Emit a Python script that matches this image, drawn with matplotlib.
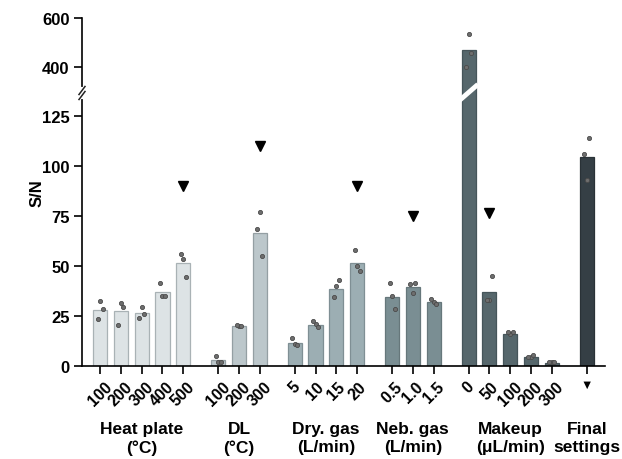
import matplotlib
matplotlib.use("Agg")
import matplotlib.pyplot as plt
from matplotlib.lines import Line2D
from matplotlib.transforms import blended_transform_factory
import numpy as np

plt.rcParams['font.family'] = ['Liberation Sans', 'DejaVu Sans']
plt.rcParams['font.weight'] = 'bold'

# グループ名とラベル
groups = ["Heat plate\n(°C)", "DL\n(°C)", "Dry. gas\n(L/min)", "Neb. gas\n(L/min)",
          "Makeup\n(μL/min)", "Final\nsettings"]
tick_labels = [["100", "200", "300", "400", "500"],
               ["100", "200", "300"],
               ["5", "10", "15", "20"],
               ["0.5", "1.0", "1.5"],
               ["0", "50", "100", "200", "300"],
               ["▼"]]
# 平均値 (S/N)
bar_vals = [[28, 27.5, 26.5, 37, 51.5],
            [3.2, 19.8, 66.7],
            [11.7, 20.5, 38.7, 51.5],
            [34.7, 39.5, 31.8],
            [469, 37, 16, 4.3, 1.5],
            [104.3]]
# 各測定値
points = [[[32.7, 28.3, 23.5], [31.7, 29.3, 20.5], [29.7, 25.8, 24], [34.8, 34.8, 41.3], [53.5, 44.7, 56]],
          [[2.2, 2.2, 5], [19.8, 19.8, 20.7], [76.8, 54.8, 68.5]],
          [[11, 10.5, 14.2], [20.8, 19.5, 22.5], [39.8, 42.8, 34.3], [49.8, 47.5, 58]],
          [[35.2, 28.7, 41.3], [36.7, 41.7, 41.2], [31.8, 30.8, 33.3]],
          [[536, 456, 401], [33.2, 44.8, 33.2], [15.8, 16.8, 16.8], [4.3, 5.5, 4.3], [2, 2, 2]],
          [[93, 114, 105.8]]]
# 最適条件の印 (グループ, 位置, 高さ)
best = [(0, 4, 90), (1, 2, 110), (2, 3, 90), (3, 1, 75), (4, 1, 76.5)]

colors = ["#dde3e5", "#bcc7cb", "#9caeb3", "#7a8e93", "#56676c", "#353f45"]
edges = ["#a9b2b5", "#949fa3", "#7f8f94", "#66777b", "#46555a", "#2a3237"]

fig = plt.figure(figsize=(6.22, 4.60), dpi=100)
W, H = 622, 460
left = 82 / W
width = (605 - 82) / W
y_bottom = 367
y_break = 94
y_top = 19
ax_lo = fig.add_axes([left, (H - y_bottom) / H, width, (y_bottom - y_break) / H])
ax_hi = fig.add_axes([left, (H - y_break) / H, width, (y_break - y_top) / H])

# x位置
pos = []
x = 0.0
for gi, g in enumerate(bar_vals):
    p = []
    for i in range(len(g)):
        p.append(x)
        x += 1
    x += 0.68
    pos.append(p)

jit = [0.0, 0.12, -0.12]
for ax in (ax_lo, ax_hi):
    for gi in range(len(bar_vals)):
        ax.bar(pos[gi], bar_vals[gi], width=0.68, color=colors[gi],
               edgecolor=edges[gi], linewidth=0.9, zorder=2)
        for i, pts in enumerate(points[gi]):
            xs = [pos[gi][i] + jit[k] for k in range(len(pts))]
            ax.plot(xs, pts, 'o', ms=3, mfc="#6e6e6e", mec="#4a4a4a", mew=0.6,
                    zorder=3, linestyle='none')
    for gi, i, v in best:
        ax.plot(pos[gi][i], v, 'v', color='black', ms=7.5, zorder=4)
    ax.set_xlim(-0.87, 24.28)
    for s in ['top', 'right']:
        ax.spines[s].set_visible(False)
    ax.spines['left'].set_linewidth(1.2)
    ax.spines['bottom'].set_linewidth(1.2)
    ax.tick_params(axis='y', length=6, width=1.2, labelsize=12, pad=3)

ax_lo.set_ylim(0, (y_bottom - y_break) / 2)
ax_lo.set_yticks([0, 25, 50, 75, 100, 125])
ax_hi.set_ylim(400 - (y_break - 68) / 0.245, 400 + (68 - y_top) / 0.245)
ax_hi.set_yticks([400, 600])
ax_hi.spines['bottom'].set_visible(False)
ax_hi.set_xticks([])

allpos = [p for g in pos for p in g]
alllab = [l for g in tick_labels for l in g]
ax_lo.set_xticks(allpos)
ax_lo.set_xticklabels(alllab, fontsize=11.5, rotation=45, ha='center')
ax_lo.tick_params(axis='x', length=6, width=1.2, pad=3)
lab = ax_lo.get_xticklabels()[-1]
lab.set_rotation(0)
lab.set_fontsize(9)

# グループ名
tr = blended_transform_factory(ax_lo.transData, ax_lo.transAxes)
for gi, g in enumerate(groups):
    cx = (pos[gi][0] + pos[gi][-1]) / 2
    ax_lo.text(cx, -55 / (y_bottom - y_break), g, transform=tr, ha='center', va='top',
               fontsize=12.5, fontweight='bold', linespacing=1.25)

fig.text(37 / W, 1 - 193 / H, "S/N", rotation=90, ha='center', va='center',
         fontsize=12, fontweight='bold')

# 軸の切れ目
yb = 1 - y_break / H
fig.add_artist(Line2D([left, left], [yb - 4 / H, yb + 4 / H], color='white', lw=3, zorder=5))
for dy in (-2.5, 2.5):
    fig.add_artist(Line2D([left - 3 / W, left + 3 / W], [yb + dy / H - 4 / H, yb + dy / H + 4 / H],
                          color='#222222', lw=1.1, zorder=6))
# 棒の切れ目
bx = pos[4][0]
trb = blended_transform_factory(ax_lo.transData, fig.transFigure)
fig.add_artist(Line2D([bx - 0.36, bx + 0.36], [yb - 6 / H, yb + 7 / H], transform=trb,
                      color='white', lw=3.5, zorder=5))

fig.savefig("out.png", dpi=100)
